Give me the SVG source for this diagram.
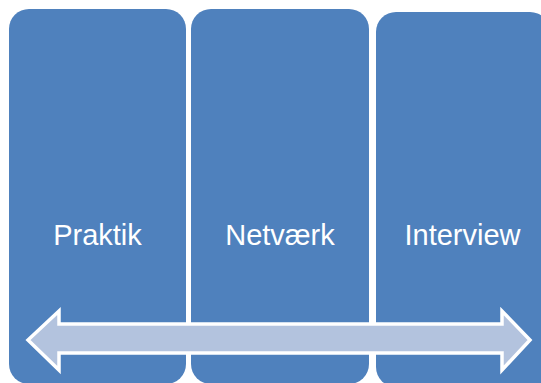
<svg xmlns="http://www.w3.org/2000/svg" width="541" height="383" viewBox="0 0 541 383">
  <style>
    .box { fill: #4F81BD; }
    .label { fill: #FFFFFF; font-family: "Liberation Sans", Arial, sans-serif; font-size: 29px; text-anchor: middle; }
    .arrow { fill: #B3C3DE; stroke: #FFFFFF; stroke-width: 3.5; stroke-linejoin: miter; }
  </style>
  <rect width="541" height="383" fill="#FFFFFF"/>
  <g id="node-praktik">
    <rect class="box" x="9" y="9" width="177" height="375" rx="20" ry="20"/>
    <text class="label" x="97.5" y="245">Praktik</text>
  </g>
  <g id="node-netvaerk">
    <rect class="box" x="191" y="9" width="178" height="375" rx="20" ry="20"/>
    <text class="label" x="280" y="245">Netværk</text>
  </g>
  <g id="node-interview">
    <rect class="box" x="376" y="12" width="174" height="375" rx="20" ry="20"/>
    <text class="label" x="462.5" y="245">Interview</text>
  </g>
  <g id="connectors">
    <polygon class="arrow" points="28,340 59,311 59,324 502,324 502,311 530,340 502,370 502,353 59,353 59,370"/>
  </g>
</svg>
